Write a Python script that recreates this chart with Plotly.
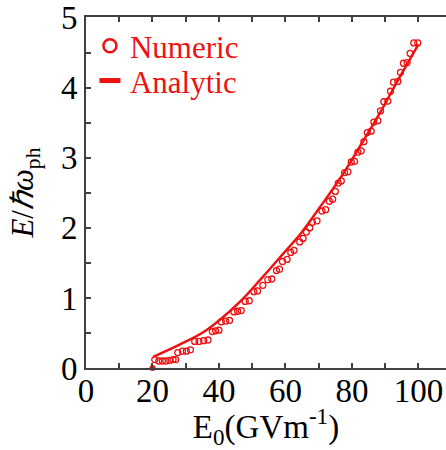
import plotly.graph_objects as go

# Numeric results (circles)
num_x = [20.7, 21.9, 23.0, 24.0, 25.2, 26.2, 27.0,
         27.6, 29.0, 30.2, 31.4,
         32.7, 34.0, 35.4, 36.7,
         38.0, 39.0, 40.0,
         40.7, 42.0, 43.2,
         44.5, 45.6, 46.7,
         47.9, 49.1,
         50.5, 51.6,
         53.2, 54.7, 55.9, 57.3, 58.2, 59.1, 60.5, 61.6, 62.6,
         64.3, 65.3, 66.3, 67.3, 68.1, 69.5, 71.0, 72.1, 73.2, 74.2,
         75.0, 75.9, 76.8, 77.8, 78.8, 79.8, 80.8, 81.8, 82.8, 83.6,
         84.6, 85.8, 86.6, 87.8, 88.6, 89.6, 90.8, 91.6, 92.5, 93.8,
         94.6, 95.5, 96.6, 97.5, 98.6, 99.8]
num_y = [0.12, 0.10, 0.10, 0.10, 0.11, 0.12, 0.12,
         0.22, 0.24, 0.24, 0.26,
         0.38, 0.38, 0.39, 0.40,
         0.52, 0.53, 0.54,
         0.66, 0.67, 0.68,
         0.80, 0.81, 0.82,
         0.95, 0.96,
         1.09, 1.10,
         1.18, 1.26, 1.27, 1.39, 1.41, 1.52, 1.55, 1.65, 1.68,
         1.80, 1.85, 1.94, 2.00, 2.08, 2.10, 2.24, 2.26, 2.38, 2.41,
         2.52, 2.64, 2.67, 2.79, 2.80, 2.94, 2.95, 3.08, 3.10, 3.23,
         3.36, 3.38, 3.51, 3.53, 3.67, 3.80, 3.81, 3.95, 4.08, 4.09,
         4.22, 4.35, 4.36, 4.49, 4.64, 4.64]

# Analytic curve
ana_x = [20.2, 28.0, 36.2, 46.2, 52.8, 58.0, 64.8, 70.0, 76.5, 82.0, 88.3, 94.0, 100.0]
ana_y = [0.16, 0.33, 0.54, 0.94, 1.28, 1.56, 1.93, 2.27, 2.71, 3.13, 3.63, 4.12, 4.62]

# Threshold point on the axis
thr_x = [20.0]
thr_y = [0.0]

x_ticks = [0, 20, 40, 60, 80, 100]
x_minor = [10, 30, 50, 70, 90]
y_ticks = [0, 1, 2, 3, 4, 5]
y_minor = [0.5, 1.5, 2.5, 3.5, 4.5]

RED = "#ee1111"
AXC = "#404040"
FONT = "Liberation Serif"

fig = go.Figure()
fig.add_trace(go.Scatter(
    x=num_x, y=num_y, mode="markers", name="Numeric", showlegend=False,
    marker=dict(symbol="circle-open", size=6, color=RED, line=dict(width=1.3, color=RED)),
))
fig.add_trace(go.Scatter(
    x=ana_x, y=ana_y, mode="lines", name="Analytic", showlegend=False,
    line=dict(color=RED, width=2.5, shape="spline"),
))
fig.add_trace(go.Scatter(
    x=thr_x, y=thr_y, mode="markers", showlegend=False, cliponaxis=False,
    marker=dict(symbol="circle", size=6, color=RED),
))
# legend-only entries
fig.add_trace(go.Scatter(
    x=[None], y=[None], mode="markers", name="Numeric", legend="legend",
    marker=dict(symbol="circle-open", size=13, color=RED, line=dict(width=2.5, color=RED)),
))
fig.add_trace(go.Scatter(
    x=[None], y=[None], mode="markers", name="Analytic", legend="legend2",
    marker=dict(symbol="line-ew", size=15, color=RED, line=dict(width=7, color=RED)),
))
# an empty trace so the top axis is drawn
fig.add_trace(go.Scatter(x=[None], y=[None], xaxis="x2", showlegend=False, hoverinfo="skip"))

minor_style = dict(ticks="inside", ticklen=5, tickwidth=1.5, tickcolor=AXC)
axis_common = dict(
    showgrid=False, zeroline=False, showline=True, linecolor=AXC, linewidth=2,
    ticks="inside", ticklen=5, tickwidth=1.5, tickcolor=AXC,
    tickfont=dict(family=FONT, size=33, color="black"),
    ticklabeloverflow="allow",
)
legend_common = dict(x=0.011, xanchor="left", yanchor="middle",
                     bgcolor="rgba(0,0,0,0)", itemwidth=30,
                     font=dict(family=FONT, size=31, color=RED))

fig.update_layout(
    width=446, height=450,
    margin=dict(l=86, r=0, t=12, b=82),
    paper_bgcolor="white", plot_bgcolor="white",
    font=dict(family=FONT),
    xaxis=dict(range=[0, 108.3], tickvals=x_ticks, mirror=False,
               ticklabelstandoff=-8,
               minor=dict(tickvals=x_minor, **minor_style),
               title=dict(text="E<sub>0</sub>(GVm<sup>-1</sup>)",
                          font=dict(family=FONT, size=33, color="black"), standoff=0),
               **axis_common),
    xaxis2=dict(range=[0, 108.3], tickvals=x_ticks, overlaying="x", side="top",
                showgrid=False, zeroline=False, showline=True, linecolor=AXC, linewidth=2,
                ticks="inside", ticklen=5, tickwidth=1.5, tickcolor=AXC,
                showticklabels=False,
                minor=dict(tickvals=x_minor, **minor_style)),
    yaxis=dict(range=[0, 5.01], tickvals=y_ticks, mirror=False,
               minor=dict(tickvals=y_minor, **minor_style),
               title=dict(text="<i>E</i>/<i>ℏω</i><sub>ph</sub>",
                          font=dict(family=FONT, size=31, color="black"), standoff=18),
               **axis_common),
    legend=dict(y=0.917, **legend_common),
    legend2=dict(y=0.818, **legend_common),
    showlegend=True,
)

fig.write_html("out.html")
